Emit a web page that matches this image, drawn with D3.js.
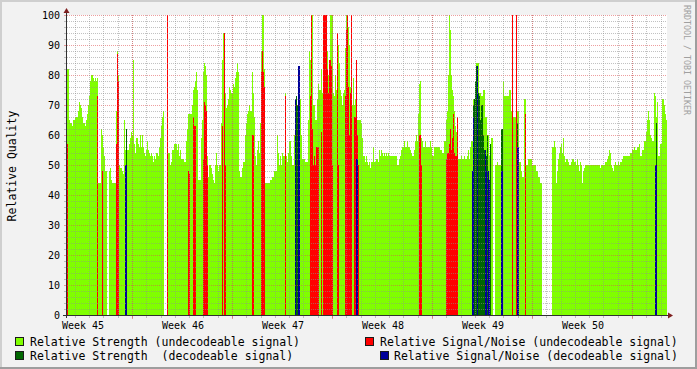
<!DOCTYPE html>
<html><head><meta charset="utf-8">
<script src="https://cdn.jsdelivr.net/npm/d3@7"></script>
<style>
html,body{margin:0;padding:0;background:#f2f2f2}
svg{display:block}
text{font-family:"DejaVu Sans Mono",monospace;fill:#000}
</style>
</head><body>
<svg id="chart" width="697" height="369"></svg>
<script>
// ---------- data ----------
const weekLabels = ["Week 45","Week 46","Week 47","Week 48","Week 49","Week 50"];
const yTickValues = [0,10,20,30,40,50,60,70,80,90,100];
const totalDays = 42;            // six weeks shown
const sampleDays = 0.07;         // one consolidated sample every 1.68 h
const firstMidnight = 0.553;     // day offset of first day boundary
const firstMajor = 4.553;        // day offset of first major grid line
const firstWeekLabel = 1.12;     // day offset of first week label

// Relative Strength (undecodeable signal), one value per sample, null = no data
const strengthUndecodeable = [
82,82,65,64,64,63,65,65,66,66, 66,68,71,70,69,66,64,64,63,65,
67,70,73,78,80,80,79,78,79,78, 79,44,44,44,62,60,56,53,48,48,
null,null,48,49,45,44,44,44,44,68, 88,80,50,49,49,48,47,65,55,55,
55,55,57,59,61,60,85,57,54,59, 59,57,56,60,56,60,56,54,53,55,
58,55,54,53,54,53,51,53,52,54, 54,53,56,59,63,66,68,null,null,null,
100,54,54,50,51,55,55,57,57,57, 55,57,53,55,52,52,52,51,51,58,
62,67,67,67,67,70,75,76,78,81, 75,45,45,45,59,65,81,84,83,80,
53,46,50,50,49,47,45,44,50,54, 50,48,50,50,64,85,94,94,74,69,
70,72,76,75,74,74,77,76,79,81, 84,81,48,46,46,49,51,51,60,64,
67,68,70,68,68,81,74,66,53,50, 55,58,54,64,88,100,100,82,44,44,
44,44,44,45,45,46,46,48,48,48, 60,54,50,53,50,54,53,53,74,53,
51,54,58,58,53,50,50,60,72,73, 70,83,83,72,60,52,52,52,51,51,
51,65,88,85,100,100,70,70,65,65, 72,77,75,75,82,74,100,100,100,100,
88,80,85,100,100,100,74,73,80,75, 94,90,84,75,73,70,74,75,89,100,
100,96,90,76,100,70,79,70,72,85, 65,65,65,65,64,59,53,53,51,53,
51,50,51,49,51,51,56,51,51,52, 52,51,55,53,55,54,53,54,53,54,
53,54,53,53,53,53,53,53,53,53, 50,50,52,53,55,56,56,58,56,56,
58,56,56,55,54,53,53,55,58,60, 58,67,77,78,59,58,56,56,58,56,
56,56,56,58,56,53,53,56,56,56, 56,56,56,55,55,54,54,58,58,65,
68,80,100,95,80,75,73,68,63,61, 66,52,52,52,53,52,52,53,52,52,
53,55,52,56,58,58,72,72,78,84, 84,84,74,74,73,73,75,75,66,66,
60,60,53,57,59,59,null,null,50,50, 51,50,50,50,62,62,78,73,73,73,
73,73,75,75,68,100,66,66,66,100, 68,68,51,51,48,46,46,72,72,50,
50,52,52,52,52,50,50,50,50,48, 48,46,46,44,44,null,null,null,null,null,
null,null,null,null,null,56,56,58,56,44, 48,52,54,56,57,54,59,53,51,52,
52,51,50,50,51,52,52,51,51,50, 52,50,48,51,50,44,48,49,50,50,
50,50,50,50,50,50,50,50,50,50, 50,50,50,49,50,50,50,50,51,51,
52,53,55,54,50,49,48,50,51,50, 50,51,50,51,51,52,53,53,53,53,
53,53,53,54,54,55,55,56,55,55, 56,56,57,53,53,55,55,58,58,61,
65,68,65,60,59,58,58,74,73,66, 71,53,53,57,57,72,72,70,67,65
];

// Relative Signal/Noise (undecodeable signal): [sample, value]
const snUndecodeable = [
[0,57],[30,73],[35,48],[49,57],[50,87],[51,78],[100,100],[121,48],[122,47],
[126,66],[127,63],[128,63],[136,52],[137,71],[138,70],[139,68],[140,50],
[155,63],[157,94],[158,50],[185,60],[186,60],[194,81],[195,88],[196,81],[197,76],
[218,73],[243,73],[244,100],[245,62],[246,50],[247,53],[248,50],[249,56],[250,56],[251,56],
[254,61],[256,100],[257,100],[258,100],[259,100],[260,82],[261,74],[262,85],[263,85],[264,83],[265,50],
[270,94],[271,50],[278,73],[279,95],[280,100],[281,76],[282,60],[283,74],[284,100],
[287,66],[288,66],[289,85],[290,60],[291,50],[352,60],[353,60],[354,50],
[379,52],[380,54],[381,54],[382,57],[383,62],[384,55],[385,59],[386,67],[387,54],[388,53],[389,53],[390,66],
[445,100],[449,100],[458,67]
];

// Relative Strength (decodeable signal): [sample, value]
const strengthDecodeable = [
[59,62],[229,73],[230,70],[231,70],[406,70],[407,72],[408,78],[409,83],[410,83],
[411,74],[412,73],[413,65],[414,70],[415,70],[416,60],[417,55],[418,55],[419,53],
[420,60],[423,57],[434,62],[435,62],[450,64],[589,64]
];

// Relative Signal/Noise (decodeable signal): [sample, value]
const snDecodeable = [
[58,50],[59,50],[228,72],[231,83],[232,83],[289,52],[290,52],[405,48],[406,66],
[410,83],[418,55],[419,48],[421,48],[422,45],[434,48],[435,48],[450,56],[451,56],
[588,50],[589,50]
];

const legendItems = [
  {label:"Relative Strength (undecodeable signal)", color:"#80ff00"},
  {label:"Relative Signal/Noise (undecodeable signal)", color:"#ff0000"},
  {label:"Relative Strength  (decodeable signal)", color:"#006600"},
  {label:"Relative Signal/Noise (decodeable signal)", color:"#000099"}
];

// ---------- layout ----------
const svg = d3.select("#chart");
const L = 67, R = 667, T = 15, B = 315;
const x = d3.scaleLinear().domain([0,totalDays]).range([L,R]);
const y = d3.scaleLinear().domain([0,100]).range([B,T]);

// background + frame
svg.append("rect").attr("width",697).attr("height",369).attr("fill","#f2f2f2");
svg.append("rect").attr("x",0).attr("y",0).attr("width",697).attr("height",2).attr("fill","#cfcfcf");
svg.append("rect").attr("x",0).attr("y",0).attr("width",2).attr("height",369).attr("fill","#cfcfcf");
svg.append("rect").attr("x",0).attr("y",367).attr("width",697).attr("height",2).attr("fill","#9e9e9e");
svg.append("rect").attr("x",695).attr("y",0).attr("width",2).attr("height",369).attr("fill","#9e9e9e");

// canvas
svg.append("rect").attr("x",L).attr("y",T).attr("width",R-L).attr("height",B-T+1).attr("fill","#fff");

// bars
function drawBars(list, color){
  svg.append("g").attr("shape-rendering","crispEdges")
    .selectAll("rect").data(list).join("rect")
    .attr("x", d => x(d[0]*sampleDays))
    .attr("width", d => x((d[0]+1)*sampleDays) - x(d[0]*sampleDays))
    .attr("y", d => y(d[1]))
    .attr("height", d => y(0) - y(d[1]) + 1)
    .attr("fill", color);
}
const strengthPairs = strengthUndecodeable.map((v,i)=>[i,v]).filter(d=>d[1]!==null);
drawBars(strengthPairs, legendItems[0].color);
drawBars(snUndecodeable, legendItems[1].color);
drawBars(strengthDecodeable, legendItems[2].color);
drawBars(snDecodeable, legendItems[3].color);

// grid (on top of data)
const gMinor = "rgba(143,143,143,0.55)", gMajor = "rgba(222,79,79,0.55)";
const grid = svg.append("g").attr("shape-rendering","crispEdges");
d3.range(0,101,2).forEach(v=>{
  const yy = Math.round(y(v))+0.5;
  const major = v%10===0;
  grid.append("line").attr("x1",L).attr("x2",R).attr("y1",yy).attr("y2",yy)
    .attr("stroke",major?gMajor:gMinor).attr("stroke-dasharray","1,1");
  grid.append("line").attr("x1",L-3).attr("x2",L-1).attr("y1",yy).attr("y2",yy)
    .attr("stroke",major?gMajor:gMinor);
});
const minorDays = d3.range(firstMidnight,totalDays,1);
minorDays.forEach(d=>{
  const xx = Math.round(x(d))+0.5;
  grid.append("line").attr("x1",xx).attr("x2",xx).attr("y1",T).attr("y2",B)
    .attr("stroke",gMinor).attr("stroke-dasharray","1,1");
  grid.append("line").attr("x1",xx).attr("x2",xx).attr("y1",B+1).attr("y2",B+3).attr("stroke",gMinor);
});
d3.range(firstMajor,totalDays,7).forEach(d=>{
  const xx = Math.round(x(d))+0.5;
  grid.append("line").attr("x1",xx).attr("x2",xx).attr("y1",T).attr("y2",B)
    .attr("stroke",gMajor).attr("stroke-dasharray","1,1");
  grid.append("line").attr("x1",xx).attr("x2",xx).attr("y1",B+1).attr("y2",B+4).attr("stroke",gMajor);
});

// axes
const axisCol = "#303030", arrowCol = "#7f1f1f";
svg.append("line").attr("x1",L-4).attr("x2",R+3).attr("y1",B+0.5).attr("y2",B+0.5)
  .attr("stroke",axisCol).attr("shape-rendering","crispEdges");
svg.append("line").attr("x1",L-0.5).attr("x2",L-0.5).attr("y1",B+3).attr("y2",T-4)
  .attr("stroke",axisCol).attr("shape-rendering","crispEdges");
svg.append("path").attr("d",`M${R+1},${B-2.5}L${R+6},${B+0.5}L${R+1},${B+3.5}Z`).attr("fill",arrowCol);
svg.append("path").attr("d",`M${L-3.5},${T-2}L${L-0.5},${T-7}L${L+2.5},${T-2}Z`).attr("fill",arrowCol);

// y labels
svg.append("g").selectAll("text").data(yTickValues).join("text")
  .attr("x",60).attr("y",v=>y(v)+3.6).attr("text-anchor","end")
  .attr("font-size","10px").text(v=>v);

// x labels
svg.append("g").selectAll("text").data(weekLabels).join("text")
  .attr("x",(d,i)=>x(firstWeekLabel+7*i)).attr("y",328.5).attr("text-anchor","middle")
  .attr("font-size","10px").text(d=>d);

// y title
svg.append("text").attr("transform","translate(15.5,166) rotate(-90)")
  .attr("text-anchor","middle").attr("font-size","11.5px").text("Relative Quality");

// watermark
svg.append("text").attr("transform","translate(684,5) rotate(90)")
  .attr("font-size","8.3px").style("fill","#a0a0a0").text("RRDTOOL / TOBI OETIKER");

// legend
const legPos = [
  {bx:15.5, tx:30, row:0},
  {bx:365.5, tx:380, row:0},
  {bx:15.5, tx:30, row:1},
  {bx:380.5, tx:394, row:1}
];
legendItems.forEach((it,i)=>{
  const p = legPos[i];
  const by = 337.5 + p.row*14;
  svg.append("rect").attr("x",p.bx).attr("y",by).attr("width",8).attr("height",8)
    .attr("fill",it.color).attr("stroke","#1a1a1a").attr("stroke-width",1);
  svg.append("text").attr("x",p.tx).attr("y",345.5+p.row*14)
    .attr("font-size","11.5px").attr("xml:space","preserve").style("white-space","pre").text(it.label);
});
</script>
</body></html>
